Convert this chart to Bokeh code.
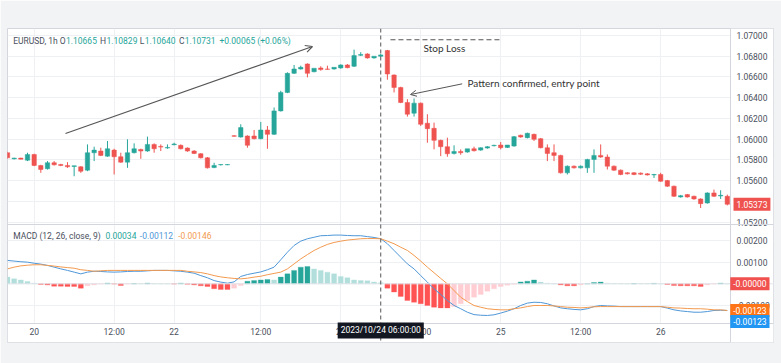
from bokeh.plotting import figure
from bokeh.models import (Range1d, FixedTicker, Span, Label, Arrow, OpenHead, LinearAxis, Grid,
                          BoxAnnotation, ColumnDataSource, PrintfTickFormatter)
from bokeh.embed import file_html
from bokeh.resources import INLINE

# ---------------- data ----------------
opens = [1.05870, 1.05811, 1.05818, 1.05798, 1.05853, 1.05747, 1.05715, 1.05773, 1.05756, 1.05747,
         1.05737, 1.05734, 1.05702, 1.05870, 1.05886, 1.05837, 1.05895, 1.05831, 1.05779, 1.05870,
         1.05902, 1.05886, 1.05950, 1.05931, 1.05915, 1.05947, 1.05941, 1.05915, 1.05886, 1.05860,
         1.05821, 1.05727, 1.05753, 1.05753, 1.06034, 1.06021, 1.06031, 1.06031, 1.06005, 1.06089,
         1.06047, 1.06273, 1.06451, 1.06635, 1.06677, 1.06725, 1.06651, 1.06687, 1.06677, 1.06677,
         1.06687, 1.06716, 1.06703, 1.06809, 1.06822, 1.06784, 1.06800, 1.06855, 1.06619, 1.06499,
         1.06354, 1.06251, 1.06348, 1.06154, 1.06105, 1.05989, 1.05928, 1.05863, 1.05882, 1.05876,
         1.05908, 1.05895, 1.05915, 1.05937, 1.05944, 1.05921, 1.05934, 1.06038, 1.06015, 1.06047,
         1.06005, 1.05918, 1.05870, 1.05844, 1.05676, 1.05740, 1.05724, 1.05724, 1.05805, 1.05844,
         1.05828, 1.05740, 1.05702, 1.05676, 1.05676, 1.05673, 1.05666, 1.05656, 1.05660, 1.05601,
         1.05547, 1.05443, 1.05466, 1.05450, 1.05424, 1.05385, 1.05482, 1.05453, 1.05450]
highs = [1.05879, 1.05821, 1.05821, 1.05870, 1.05860, 1.05753, 1.05789, 1.05789, 1.05763, 1.05779,
         1.05744, 1.05740, 1.05950, 1.05928, 1.05918, 1.05983, 1.05908, 1.05870, 1.05999, 1.05960,
         1.05908, 1.06025, 1.05960, 1.05950, 1.05950, 1.05966, 1.05950, 1.05921, 1.05895, 1.05866,
         1.05828, 1.05773, 1.05760, 1.05760, 1.06038, 1.06144, 1.06038, 1.06089, 1.06167, 1.06128,
         1.06306, 1.06467, 1.06645, 1.06716, 1.06709, 1.06732, 1.06661, 1.06703, 1.06709, 1.06684,
         1.06722, 1.06725, 1.06864, 1.06839, 1.06829, 1.06790, 1.06822, 1.06861, 1.06625, 1.06506,
         1.06386, 1.06393, 1.06354, 1.06241, 1.06160, 1.05996, 1.06015, 1.05941, 1.05902, 1.05882,
         1.05928, 1.05921, 1.05934, 1.05947, 1.05973, 1.05928, 1.06031, 1.06044, 1.06063, 1.06054,
         1.06012, 1.05950, 1.05950, 1.05850, 1.05747, 1.05747, 1.05747, 1.05811, 1.05902, 1.05950,
         1.05853, 1.05747, 1.05708, 1.05682, 1.05682, 1.05679, 1.05673, 1.05666, 1.05676, 1.05608,
         1.05553, 1.05463, 1.05472, 1.05456, 1.05430, 1.05488, 1.05514, 1.05508, 1.05466]
lows = [1.05811, 1.05805, 1.05805, 1.05789, 1.05740, 1.05676, 1.05708, 1.05747, 1.05740, 1.05724,
        1.05643, 1.05676, 1.05692, 1.05789, 1.05837, 1.05831, 1.05660, 1.05773, 1.05724, 1.05863,
        1.05811, 1.05879, 1.05870, 1.05886, 1.05908, 1.05941, 1.05902, 1.05879, 1.05857, 1.05815,
        1.05718, 1.05721, 1.05747, 1.05750, 1.06025, 1.06015, 1.05918, 1.05999, 1.05999, 1.05908,
        1.06041, 1.06267, 1.06444, 1.06629, 1.06671, 1.06596, 1.06645, 1.06661, 1.06671, 1.06671,
        1.06680, 1.06684, 1.06696, 1.06803, 1.06777, 1.06777, 1.06793, 1.06574, 1.06451, 1.06348,
        1.06218, 1.06218, 1.06128, 1.05966, 1.05902, 1.05837, 1.05831, 1.05853, 1.05850, 1.05870,
        1.05882, 1.05889, 1.05908, 1.05931, 1.05902, 1.05915, 1.05928, 1.06015, 1.06008, 1.05983,
        1.05912, 1.05789, 1.05789, 1.05669, 1.05660, 1.05718, 1.05718, 1.05676, 1.05676, 1.05821,
        1.05708, 1.05695, 1.05653, 1.05660, 1.05653, 1.05656, 1.05650, 1.05627, 1.05589, 1.05540,
        1.05443, 1.05437, 1.05437, 1.05417, 1.05337, 1.05379, 1.05443, 1.05424, 1.05362]
closes = [1.05821, 1.05818, 1.05808, 1.05853, 1.05747, 1.05708, 1.05773, 1.05753, 1.05747, 1.05734,
          1.05744, 1.05692, 1.05870, 1.05895, 1.05844, 1.05908, 1.05831, 1.05779, 1.05870, 1.05908,
          1.05886, 1.05950, 1.05908, 1.05924, 1.05921, 1.05954, 1.05908, 1.05886, 1.05863, 1.05821,
          1.05724, 1.05747, 1.05756, 1.05756, 1.06028, 1.06112, 1.05941, 1.06005, 1.06089, 1.06047,
          1.06273, 1.06451, 1.06635, 1.06677, 1.06693, 1.06635, 1.06684, 1.06671, 1.06674, 1.06693,
          1.06716, 1.06690, 1.06806, 1.06816, 1.06784, 1.06800, 1.06813, 1.06629, 1.06499, 1.06354,
          1.06241, 1.06348, 1.06144, 1.06102, 1.05989, 1.05928, 1.05860, 1.05882, 1.05870, 1.05908,
          1.05889, 1.05918, 1.05928, 1.05941, 1.05918, 1.05944, 1.06025, 1.06021, 1.06057, 1.05999,
          1.05918, 1.05863, 1.05844, 1.05676, 1.05740, 1.05724, 1.05740, 1.05805, 1.05844, 1.05828,
          1.05740, 1.05702, 1.05660, 1.05666, 1.05660, 1.05663, 1.05656, 1.05660, 1.05595, 1.05547,
          1.05450, 1.05456, 1.05443, 1.05424, 1.05379, 1.05482, 1.05450, 1.05459, 1.05373]

macd = [0.00108, 0.00105, 0.00102, 0.00100, 0.00095, 0.00091, 0.00085, 0.00077, 0.00069, 0.00062,
        0.00054, 0.00046, 0.00054, 0.00058, 0.00057, 0.00055, 0.00054, 0.00055, 0.00057, 0.00058,
        0.00058, 0.00060, 0.00062, 0.00062, 0.00062, 0.00060, 0.00058, 0.00054, 0.00049, 0.00038,
        0.00028, 0.00015, 0.00008, 0.00003, 0.00009, 0.00034, 0.00043, 0.00049, 0.00055, 0.00065,
        0.00077, 0.00111, 0.00146, 0.00177, 0.00197, 0.00208, 0.00215, 0.00222, 0.00223, 0.00225,
        0.00225, 0.00223, 0.00222, 0.00222, 0.00218, 0.00214, 0.00208, 0.00185, 0.00154, 0.00123,
        0.00092, 0.00069, 0.00038, 0.00008, -0.00023, -0.00049, -0.00077, -0.00100, -0.00115, -0.00131,
        -0.00142, -0.00145, -0.00146, -0.00143, -0.00135, -0.00126, -0.00115, -0.00100, -0.00089, -0.00085,
        -0.00086, -0.00092, -0.00102, -0.00111, -0.00115, -0.00118, -0.00120, -0.00115, -0.00105, -0.00100,
        -0.00102, -0.00103, -0.00105, -0.00105, -0.00105, -0.00105, -0.00105, -0.00105, -0.00105, -0.00112,
        -0.00120, -0.00125, -0.00128, -0.00131, -0.00131, -0.00128, -0.00123, -0.00122, -0.00123]
signal = [0.00069, 0.00077, 0.00083, 0.00086, 0.00088, 0.00088, 0.00085, 0.00082, 0.00078, 0.00075,
          0.00072, 0.00065, 0.00062, 0.00058, 0.00060, 0.00062, 0.00062, 0.00062, 0.00062, 0.00062,
          0.00062, 0.00062, 0.00062, 0.00062, 0.00062, 0.00062, 0.00062, 0.00058, 0.00055, 0.00052,
          0.00046, 0.00038, 0.00032, 0.00028, 0.00025, 0.00023, 0.00026, 0.00031, 0.00035, 0.00042,
          0.00048, 0.00054, 0.00069, 0.00092, 0.00115, 0.00135, 0.00154, 0.00169, 0.00182, 0.00191,
          0.00197, 0.00202, 0.00205, 0.00208, 0.00209, 0.00209, 0.00208, 0.00197, 0.00185, 0.00169,
          0.00154, 0.00131, 0.00105, 0.00077, 0.00051, 0.00025, 0.00000, -0.00031, -0.00062, -0.00082,
          -0.00100, -0.00108, -0.00115, -0.00118, -0.00120, -0.00120, -0.00115, -0.00111, -0.00105, -0.00100,
          -0.00100, -0.00100, -0.00102, -0.00105, -0.00108, -0.00109, -0.00111, -0.00109, -0.00106, -0.00105,
          -0.00105, -0.00105, -0.00105, -0.00105, -0.00105, -0.00105, -0.00105, -0.00105, -0.00105, -0.00108,
          -0.00111, -0.00112, -0.00114, -0.00115, -0.00115, -0.00117, -0.00120, -0.00120, -0.00123]
hist = [0.00031, 0.00023, 0.00018, 0.00011, 0.00003, -0.00003, -0.00005, -0.00011, -0.00011, -0.00012,
        -0.00012, -0.00020, -0.00009, -0.00005, -0.00001, 0.00003, -0.00001, -0.00008, -0.00001, 0.00001,
        0.00001, 0.00003, 0.00001, 0.00000, 0.00000, -0.00001, 0.00003, -0.00002, -0.00005, -0.00009,
        -0.00012, -0.00023, -0.00026, -0.00026, -0.00020, -0.00008, 0.00012, 0.00015, 0.00018, 0.00020,
        0.00018, 0.00031, 0.00046, 0.00062, 0.00077, 0.00080, 0.00069, 0.00062, 0.00054, 0.00046,
        0.00034, 0.00028, 0.00018, 0.00015, 0.00014, 0.00009, 0.00005, -0.00020, -0.00038, -0.00058,
        -0.00077, -0.00085, -0.00092, -0.00100, -0.00108, -0.00111, -0.00111, -0.00105, -0.00092, -0.00077,
        -0.00062, -0.00049, -0.00034, -0.00023, -0.00012, -0.00006, -0.00002, 0.00009, 0.00012, 0.00018,
        0.00008, 0.00003, 0.00000, -0.00005, -0.00009, -0.00009, -0.00005, 0.00000, 0.00006, 0.00008,
        0.00003, 0.00001, 0.00001, 0.00000, 0.00001, 0.00001, 0.00001, 0.00002, 0.00000, -0.00003,
        -0.00008, -0.00009, -0.00009, -0.00009, -0.00012, -0.00005, -0.00001, 0.00003, 0.00000]

time_tick_pos = [4, 16, 25, 38, 50, 62, 74, 86, 98]
time_tick_labels = ["20", "12:00", "22", "12:00", "24", "12:00", "25", "12:00", "26"]
price_ticks = [1.052, 1.054, 1.056, 1.058, 1.060, 1.062, 1.064, 1.066, 1.068, 1.070]
macd_ticks = [-0.001, 0.0, 0.001, 0.002]

last_price = 1.05373
crosshair_bar = 56
crosshair_text = "2023/10/24 06:00:00"

# annotation anchors (bar index, price)
trend_arrow = (8.70, 1.06055, 45.76, 1.06894)
entry_arrow = (68.22, 1.06534, 60.47, 1.06431)
stop_loss_line = (57.46, 74.27, 1.06959)
stop_loss_text = (62.42, 1.06875)
entry_text = (69.02, 1.06542)

# ---------------- styling / layout ----------------
GREEN = "#26a69a"
RED = "#ef5350"
GRID = "#eef0f3"
EDGE = "#d3d6dc"
TXT = "#4a4f5c"
FONT = "Roboto"
BG = "#f2f3f5"

X0, X1 = 0.0, 114.93            # full chart width (bars + price scale strip)
AXIS_X = 108.48                 # where the price scale begins
PY0, PY1 = 1.040401, 1.070675   # price scale over the whole frame height
MY0, MY1 = -0.002708, 0.011785  # MACD scale over the whole frame height
PANE_SPLIT = 1.051778           # price value at the pane separator
TIME_AXIS_Y = -0.001831         # MACD value where the time axis sits
CROSS_LABEL_Y = -0.002154

n = len(closes)
idx = list(range(n))

candle_colors = [GREEN if c >= o else RED for o, c in zip(opens, closes)]
src = ColumnDataSource(dict(x=idx, o=opens, h=highs, l=lows, c=closes,
                            top=[max(o, c) for o, c in zip(opens, closes)],
                            bot=[min(o, c) for o, c in zip(opens, closes)],
                            color=candle_colors))

hist_colors = []
prev = None
for h in hist:
    rising = prev is not None and h > prev
    if h >= 0:
        hist_colors.append("#26a69a" if rising else "#b2dfdb")
    else:
        hist_colors.append("#ffcdd2" if rising else "#ff5252")
    prev = h
hsrc = ColumnDataSource(dict(x=idx, h=hist, color=hist_colors))

p = figure(width=781, height=363, x_range=Range1d(X0, X1), y_range=Range1d(PY0, PY1),
           x_axis_location=None, y_axis_location=None,
           toolbar_location=None, output_backend="svg",
           min_border_left=7, min_border_right=8, min_border_top=28, min_border_bottom=21,
           background_fill_color="white", border_fill_color=BG,
           outline_line_color=EDGE)
p.extra_y_ranges = {"macd": Range1d(MY0, MY1)}
p.xgrid.grid_line_color = None
p.ygrid.grid_line_color = None

p.add_layout(Grid(dimension=0, ticker=FixedTicker(ticks=time_tick_pos), grid_line_color=GRID))
p.add_layout(Grid(dimension=1, ticker=FixedTicker(ticks=price_ticks), grid_line_color=GRID))
p.add_layout(Grid(dimension=1, ticker=FixedTicker(ticks=macd_ticks), y_range_name="macd",
                  grid_line_color=GRID))
# keep the scale strip and the time-label row free of grid lines
p.add_layout(BoxAnnotation(left=AXIS_X, fill_color="white", fill_alpha=1, line_color=None,
                           level="underlay"))
p.add_layout(BoxAnnotation(top=TIME_AXIS_Y, y_range_name="macd", fill_color="white", fill_alpha=1,
                           line_color=None, level="underlay"))

# axes
price_axis = LinearAxis(fixed_location=AXIS_X, ticker=FixedTicker(ticks=price_ticks),
                        formatter=PrintfTickFormatter(format="%.5f"))
macd_axis = LinearAxis(fixed_location=AXIS_X, y_range_name="macd",
                       ticker=FixedTicker(ticks=macd_ticks),
                       formatter=PrintfTickFormatter(format="%.5f"))
time_axis = LinearAxis(fixed_location=TIME_AXIS_Y, y_range_name="macd",
                       ticker=FixedTicker(ticks=time_tick_pos))
time_axis.major_label_overrides = {k: v for k, v in zip(time_tick_pos, time_tick_labels)}
for ax in (price_axis, macd_axis, time_axis):
    ax.major_tick_line_color = None
    ax.minor_tick_line_color = None
    ax.major_tick_out = 0
    ax.major_tick_in = 0
    ax.minor_tick_out = 0
    ax.axis_line_color = EDGE
    ax.major_label_text_font = FONT
    ax.major_label_text_font_size = "8.5px"
    ax.major_label_text_color = TXT
    ax.major_label_standoff = 6
macd_axis.axis_line_color = None
time_axis.major_label_standoff = 4
p.add_layout(price_axis, "right")
p.add_layout(macd_axis, "right")
p.add_layout(time_axis, "below")

# pane separator
p.add_layout(Span(location=PANE_SPLIT, dimension="width", line_color=EDGE, line_width=1))

# candles
p.segment(x0="x", y0="h", x1="x", y1="l", source=src, line_color="color", line_width=1)
p.vbar(x="x", top="top", bottom="bot", width=0.66, source=src,
       fill_color="color", line_color="color", line_width=0.5)

# MACD
p.add_layout(Span(location=0, dimension="width", y_range_name="macd", line_color="#e3e5ea",
                  line_width=1))
p.vbar(x="x", top="h", bottom=0, width=0.75, source=hsrc, fill_color="color",
       line_color="color", line_width=0.3, y_range_name="macd")
p.line(idx, macd, line_color="#4f97d8", line_width=1.0, y_range_name="macd")
p.line(idx, signal, line_color="#f39a4f", line_width=1.0, y_range_name="macd")

# crosshair
p.add_layout(Span(location=crosshair_bar, dimension="height", line_color="#555555",
                  line_width=1, line_dash="4 3"))

# annotations
p.line(x=[stop_loss_line[0], stop_loss_line[1]], y=[stop_loss_line[2], stop_loss_line[2]],
       line_color="#555555", line_width=1, line_dash="5 3")
p.add_layout(Arrow(x_start=trend_arrow[0], y_start=trend_arrow[1],
                   x_end=trend_arrow[2], y_end=trend_arrow[3],
                   line_color="#555555", line_width=1.1,
                   end=OpenHead(size=7, line_color="#555555", line_width=1.1)))
p.add_layout(Arrow(x_start=entry_arrow[0], y_start=entry_arrow[1],
                   x_end=entry_arrow[2], y_end=entry_arrow[3],
                   line_color="#555555", line_width=1,
                   end=OpenHead(size=6, line_color="#555555", line_width=1)))
p.add_layout(Label(x=stop_loss_text[0], y=stop_loss_text[1], text="Stop Loss",
                   text_font="Lato", text_font_size="10px", text_color="#333333",
                   text_baseline="middle", text_align="left"))
p.add_layout(Label(x=entry_text[0], y=entry_text[1], text="Pattern confirmed, entry point",
                   text_font="Lato", text_font_size="10px", text_color="#333333",
                   text_baseline="middle", text_align="left"))

# legends (status lines)
legend_parts = [("EURUSD, 1h", 5.7, TXT), ("O", 52.2, TXT), ("1.10665", 58.5, GREEN),
                ("H", 92.6, TXT), ("1.10829", 99.0, GREEN), ("L", 132.2, TXT),
                ("1.10640", 137.2, GREEN), ("C", 171.4, TXT), ("1.10731", 177.2, GREEN),
                ("+0.00065 (+0.06%)", 212.0, GREEN)]
for txt, off, col in legend_parts:
    p.add_layout(Label(x=X0, y=PY1, x_offset=off, y_offset=-12, text=txt,
                       text_font=FONT, text_font_size="8.5px", text_color=col,
                       text_baseline="middle", text_align="left"))
macd_legend = [("MACD (12, 26, close, 9)", 5.7, TXT), ("0.00034", 98.0, GREEN),
               ("-0.00112", 132.3, "#4f97d8"), ("-0.00146", 170.7, "#f39a4f")]
for txt, off, col in macd_legend:
    p.add_layout(Label(x=X0, y=PY1, x_offset=off, y_offset=-207, text=txt,
                       text_font=FONT, text_font_size="8.5px", text_color=col,
                       text_baseline="middle", text_align="left"))

# value tags on the scales
p.add_layout(Label(x=AXIS_X, y=last_price, x_offset=3, text="1.05373",
                   text_font=FONT, text_font_size="8.5px", text_color="white",
                   text_baseline="middle", text_align="left",
                   background_fill_color=RED, padding=3))

def macd_tag(y, text, color, dy=0):
    p.add_layout(Label(x=X1, y=y, x_offset=-4, y_offset=dy, text=text, y_range_name="macd",
                       text_font=FONT, text_font_size="8.5px", text_color="white",
                       text_baseline="middle", text_align="right",
                       background_fill_color=color, padding=3))

macd_tag(0.0, "-0.00000", "#f0514f")
macd_tag(signal[-1], "-0.00123", "#ff7417")
macd_tag(macd[-1], "-0.00123", "#2196f3", dy=-11)

p.add_layout(Label(x=crosshair_bar, y=CROSS_LABEL_Y, y_range_name="macd", text=crosshair_text,
                   text_font=FONT, text_font_size="8.5px", text_color="white",
                   text_baseline="middle", text_align="center",
                   background_fill_color="#131722", padding=3))

open("out.html", "w").write(file_html(p, INLINE))
